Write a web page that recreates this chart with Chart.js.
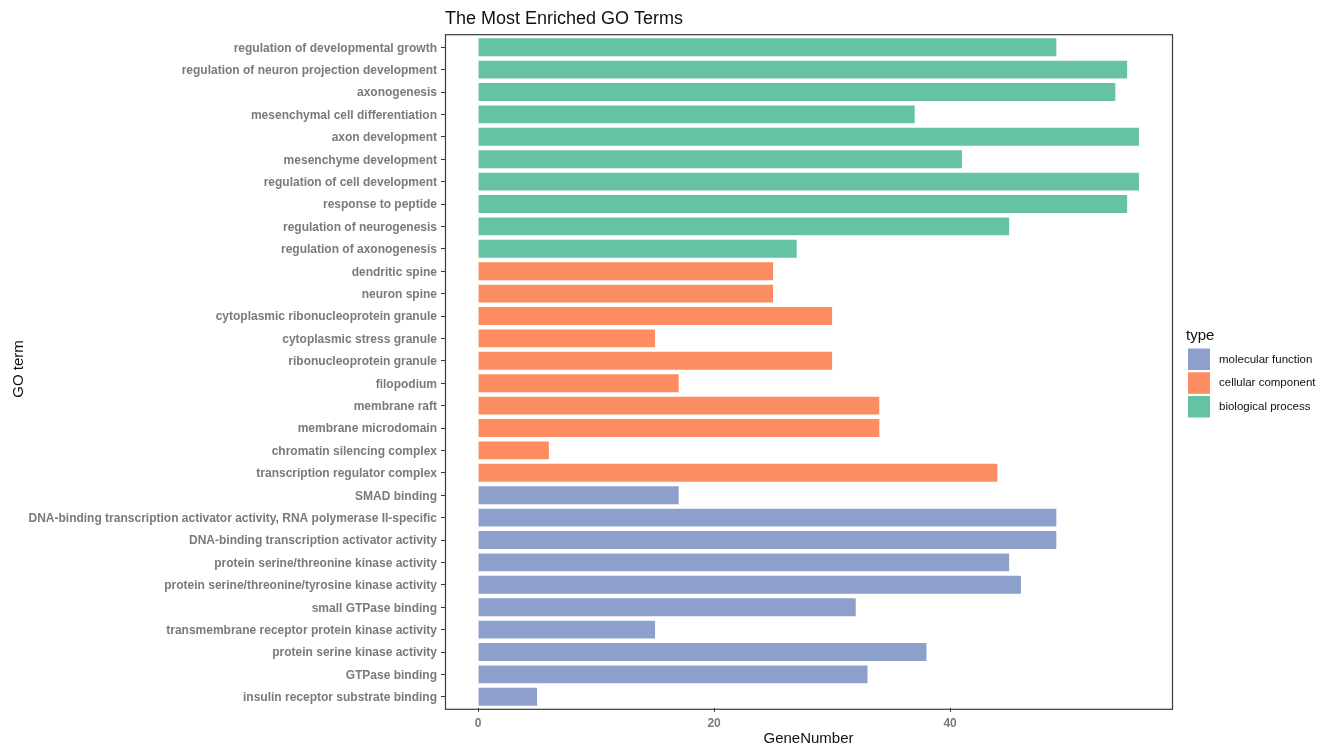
<!DOCTYPE html>
<html>
<head>
<meta charset="utf-8">
<script src="https://cdn.jsdelivr.net/npm/chart.js@4/dist/chart.umd.min.js"></script>
<style>
  html, body { margin: 0; padding: 0; background: #ffffff; }
  canvas { display: block; }
</style>
</head>
<body>
<canvas id="chart" width="1327" height="749"></canvas>
<script>
// GO terms, listed top to bottom
const terms = [
  'regulation of developmental growth',
  'regulation of neuron projection development',
  'axonogenesis',
  'mesenchymal cell differentiation',
  'axon development',
  'mesenchyme development',
  'regulation of cell development',
  'response to peptide',
  'regulation of neurogenesis',
  'regulation of axonogenesis',
  'dendritic spine',
  'neuron spine',
  'cytoplasmic ribonucleoprotein granule',
  'cytoplasmic stress granule',
  'ribonucleoprotein granule',
  'filopodium',
  'membrane raft',
  'membrane microdomain',
  'chromatin silencing complex',
  'transcription regulator complex',
  'SMAD binding',
  'DNA-binding transcription activator activity, RNA polymerase II-specific',
  'DNA-binding transcription activator activity',
  'protein serine/threonine kinase activity',
  'protein serine/threonine/tyrosine kinase activity',
  'small GTPase binding',
  'transmembrane receptor protein kinase activity',
  'protein serine kinase activity',
  'GTPase binding',
  'insulin receptor substrate binding'
];

// number of genes per term
const geneNumbers = [
  49, 55, 54, 37, 56, 41, 56, 55, 45, 27,
  25, 25, 30, 15, 30, 17, 34, 34, 6, 44,
  17, 49, 49, 45, 46, 32, 15, 38, 33, 5
];

// ontology of each term (index into typeNames)
const termTypes = [
  2, 2, 2, 2, 2, 2, 2, 2, 2, 2,
  1, 1, 1, 1, 1, 1, 1, 1, 1, 1,
  0, 0, 0, 0, 0, 0, 0, 0, 0, 0
];

const typeNames = ['molecular function', 'cellular component', 'biological process'];
const typeColors = ['#8DA0CB', '#FC8D62', '#66C2A5'];
const xTickValues = [0, 20, 40];

const FONT = "'Liberation Sans', Arial, sans-serif";
const TICK_GREY = '#7a7a7a';
const FRAME_GREY = '#3a3a3a';

// frame, titles and the type legend
const decorations = {
  id: 'decorations',
  afterDraw(chart) {
    const { ctx, chartArea: a } = chart;
    ctx.save();

    // panel border (slightly beyond the category padding)
    ctx.strokeStyle = FRAME_GREY;
    ctx.lineWidth = 1.2;
    ctx.strokeRect(a.left + 0.5, a.top - 1.3, a.right - a.left, a.bottom - a.top + 2.6);

    // plot title
    ctx.fillStyle = '#111111';
    ctx.font = '18px ' + FONT;
    ctx.textAlign = 'left';
    ctx.textBaseline = 'alphabetic';
    ctx.fillText('The Most Enriched GO Terms', a.left, 23.5);

    // axis titles
    ctx.font = '15px ' + FONT;
    ctx.textAlign = 'center';
    ctx.textBaseline = 'middle';
    ctx.fillText('GeneNumber', (a.left + a.right) / 2, 739);
    ctx.save();
    ctx.translate(19, 369);
    ctx.rotate(-Math.PI / 2);
    ctx.fillText('GO term', 0, 0);
    ctx.restore();

    // legend
    ctx.textAlign = 'left';
    ctx.textBaseline = 'alphabetic';
    ctx.font = '15px ' + FONT;
    ctx.fillText('type', 1186, 339.5);
    ctx.textBaseline = 'middle';
    ctx.font = '11.5px ' + FONT;
    const keyTops = [348.5, 372.3, 396];
    typeNames.forEach((name, i) => {
      ctx.fillStyle = typeColors[i];
      ctx.fillRect(1188, keyTops[i], 22, 21.5);
      ctx.fillStyle = '#111111';
      ctx.fillText(name, 1219, keyTops[i] + 11);
    });

    ctx.restore();
  }
};

new Chart(document.getElementById('chart'), {
  type: 'bar',
  data: {
    labels: terms,
    datasets: [{
      data: geneNumbers,
      backgroundColor: termTypes.map(t => typeColors[t]),
      borderWidth: 0,
      barPercentage: 0.8,
      categoryPercentage: 1.0
    }]
  },
  options: {
    indexAxis: 'y',
    responsive: false,
    animation: false,
    events: [],
    layout: { padding: { left: 0, top: 36, right: 155, bottom: 0 } },
    plugins: {
      legend: { display: false },
      title: { display: false },
      tooltip: { enabled: false }
    },
    scales: {
      x: {
        type: 'linear',
        min: -2.8,
        max: 58.8,
        afterBuildTicks(scale) {
          scale.ticks = xTickValues.map(v => ({ value: v }));
        },
        afterFit(scale) { scale.height = 41; },
        grid: {
          drawOnChartArea: false,
          drawTicks: true,
          tickLength: 4,
          color: FRAME_GREY,
          lineWidth: 1
        },
        border: { display: false },
        ticks: {
          color: TICK_GREY,
          font: { family: FONT, size: 12, weight: 'bold' },
          padding: 4,
          maxRotation: 0
        }
      },
      y: {
        type: 'category',
        offset: true,
        afterFit(scale) { scale.width = 445; },
        grid: {
          drawOnChartArea: false,
          drawTicks: true,
          tickLength: 4,
          color: FRAME_GREY,
          lineWidth: 1,
          offset: false
        },
        border: { display: false },
        ticks: {
          color: TICK_GREY,
          font: { family: FONT, size: 12, weight: 'bold' },
          padding: 4,
          labelOffset: 1,
          autoSkip: false
        }
      }
    }
  },
  plugins: [decorations]
});
</script>
</body>
</html>
